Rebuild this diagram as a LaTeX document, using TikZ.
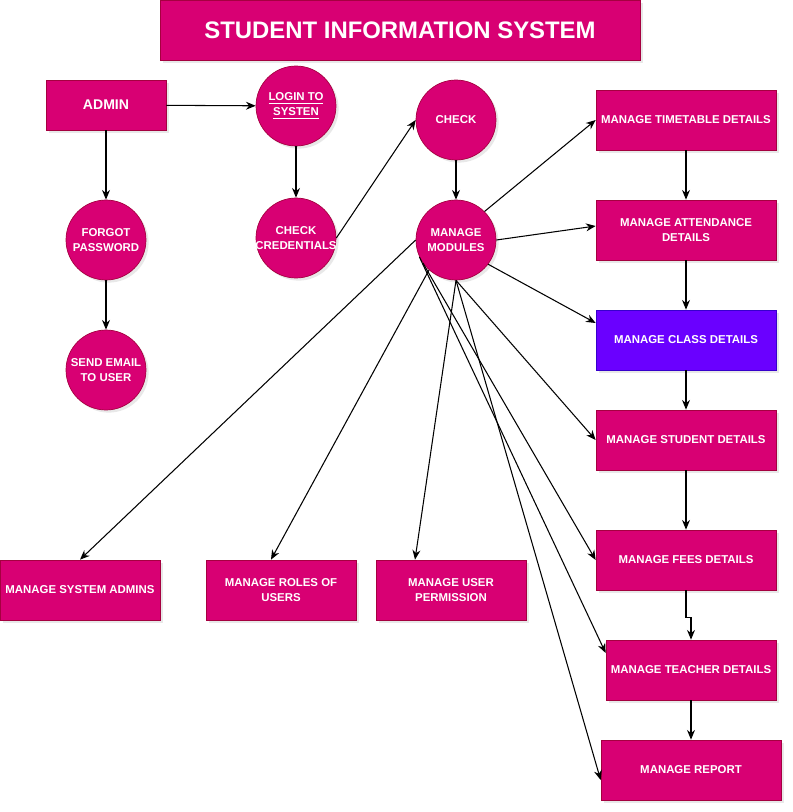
\documentclass[tikz,border=0pt]{standalone}
\usepackage{fontspec}
\setmainfont{Liberation Sans}
\usetikzlibrary{arrows.meta,shadows}

\definecolor{sispink}{HTML}{D80073}
\definecolor{sisedge}{HTML}{A50040}
\definecolor{sispurple}{HTML}{6A00FF}
\definecolor{sisviolet}{HTML}{3700CC}

\begin{document}
\begin{tikzpicture}[x=0.02cm, y=-0.02cm,
    proc/.style={draw=sisedge, fill=sispink, text=white, minimum width=3.6cm, minimum height=1.2cm, align=center, inner sep=1pt, font=\bfseries\fontsize{6.5}{8.4}\selectfont, drop shadow={shadow xshift=1.5pt, shadow yshift=-1.5pt, opacity=0.18}},
    act/.style={proc, circle, minimum size=1.6cm, inner sep=0pt},
    head/.style={proc, minimum width=9.6cm, minimum height=1.2cm, font=\bfseries\fontsize{13.6}{16}\selectfont},
    arr/.style={-{Stealth[length=5.5pt, width=4.5pt]}, line width=0.6pt}
]
\useasboundingbox (0,0) rectangle (793,812);

\node[head] (sis) at (400,30) {STUDENT INFORMATION SYSTEM};

% login path
\node[proc, minimum width=2.4cm, minimum height=1cm, font=\bfseries\fontsize{8}{9.6}\selectfont] (admin) at (106,105) {ADMIN};
\node[act] (login) at (296,106) {\underline{LOGIN TO}\\\underline{SYSTEN}};
\node[act] (forgot) at (106,240) {FORGOT\\PASSWORD};
\node[act] (email) at (106,370) {SEND EMAIL\\TO USER};
\node[act] (cred) at (296,238) {CHECK\\\makebox[0pt]{CREDENTIALS}};
\node[act] (check) at (456,120) {CHECK};
\node[act] (mod) at (456,240) {MANAGE\\MODULES};

% modules, right column
\node[proc] (tt) at (686,120) {MANAGE TIMETABLE DETAILS};
\node[proc] (att) at (686,230) {MANAGE ATTENDANCE\\DETAILS};
\node[proc, draw=sisviolet, fill=sispurple] (cls) at (686,340) {MANAGE CLASS DETAILS};
\node[proc] (stud) at (686,440) {MANAGE STUDENT DETAILS};
\node[proc] (fees) at (686,560) {MANAGE FEES DETAILS};
\node[proc, minimum width=3.4cm] (teach) at (691,670) {MANAGE TEACHER DETAILS};
\node[proc] (report) at (691,770) {MANAGE REPORT};

% modules, bottom row
\node[proc, minimum width=3.2cm] (sysadm) at (80,590) {MANAGE SYSTEM ADMINS};
\node[proc, minimum width=3cm] (roles) at (281,590) {MANAGE ROLES OF\\USERS};
\node[proc, minimum width=3cm] (perm) at (451,590) {MANAGE USER\\PERMISSION};

\draw[arr] (admin) -- (login);
\draw[arr] (admin) -- (forgot);
\draw[arr] (forgot) -- (email);
\draw[arr] (login) -- (cred);
\draw[arr] (cred.east) -- (check.west);
\draw[arr] (check) -- (mod);

\draw[arr] (mod.45) -- (tt.west);
\draw[arr] (mod.east) -- ([yshift=0.08cm]att.west);
\draw[arr] (mod.-37) -- ([yshift=0.34cm]cls.west);
\draw[arr] (mod.south) -- (stud.west);
\draw[arr] (mod.215) -- (fees.west);
\draw[arr] (mod.205) -- ([yshift=0.34cm]teach.west);
\draw[arr] (mod.south) -- ([yshift=-0.2cm]report.west);
\draw[arr] (mod.west) -- (sysadm.north);
\draw[arr] (mod.228) -- ([xshift=-0.2cm]roles.north);
\draw[arr] (mod.south) -- ([xshift=-0.72cm]perm.north);

\draw[arr] (tt) -- (att);
\draw[arr] (att) -- (cls);
\draw[arr] (cls) -- (stud);
\draw[arr] (stud) -- (fees);
\draw[arr] (fees.south) -- ++(0cm,-0.55cm) -| (teach.north);
\draw[arr] (teach) -- (report);
\end{tikzpicture}
\end{document}
